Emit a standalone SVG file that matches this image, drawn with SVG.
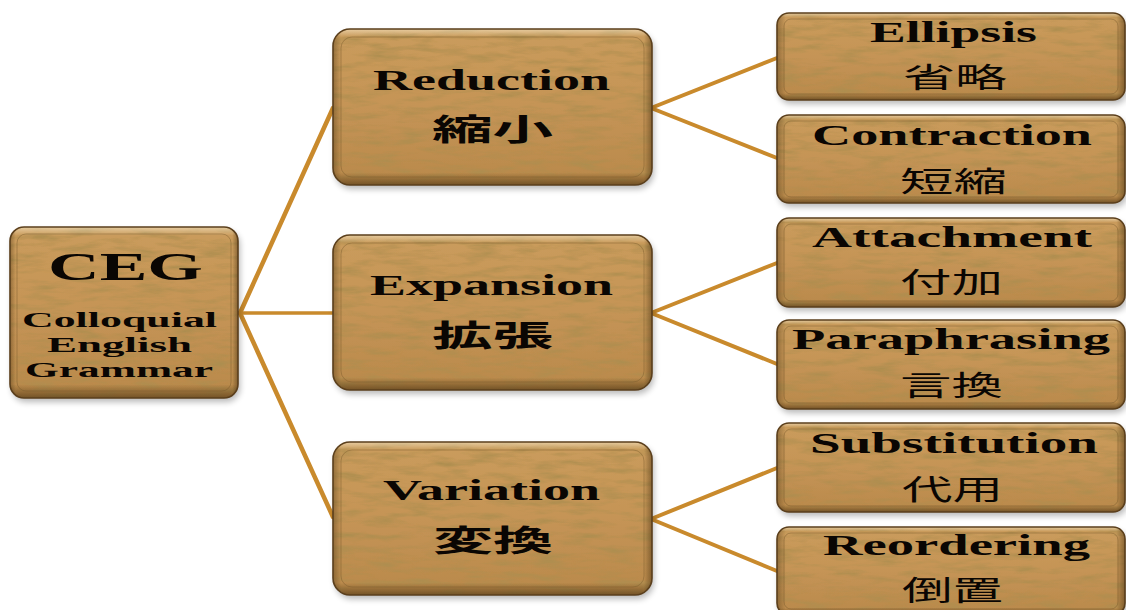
<svg xmlns="http://www.w3.org/2000/svg" width="1126" height="610" viewBox="0 0 1126 610">
<defs>
  <linearGradient id="woodg" x1="0" y1="0" x2="0" y2="1">
    <stop offset="0" stop-color="#ca9c5c"/>
    <stop offset="0.5" stop-color="#c59456"/>
    <stop offset="1" stop-color="#b9894b"/>
  </linearGradient>
  <linearGradient id="bevv" x1="0" y1="0" x2="0" y2="1">
    <stop offset="0" stop-color="#fff3d8" stop-opacity="0.55"/>
    <stop offset="0.05" stop-color="#fff3d8" stop-opacity="0"/>
    <stop offset="0.92" stop-color="#3a2508" stop-opacity="0"/>
    <stop offset="1" stop-color="#3a2508" stop-opacity="0.55"/>
  </linearGradient>
  <linearGradient id="bevh" x1="0" y1="0" x2="1" y2="0">
    <stop offset="0" stop-color="#3a2508" stop-opacity="0.35"/>
    <stop offset="0.025" stop-color="#3a2508" stop-opacity="0"/>
    <stop offset="0.975" stop-color="#3a2508" stop-opacity="0"/>
    <stop offset="1" stop-color="#3a2508" stop-opacity="0.45"/>
  </linearGradient>
  <filter id="tex" x="0" y="0" width="1" height="1">
    <feTurbulence type="fractalNoise" baseFrequency="0.03 0.15" numOctaves="4" seed="7" result="n"/>
    <feColorMatrix in="n" type="matrix" values="0 0 0 0 0.42  0 0 0 0 0.27  0 0 0 0 0.08  2.2 0 0 0 -0.95" result="c"/>
    <feComposite in="c" in2="SourceGraphic" operator="in" result="t"/>
    <feMerge><feMergeNode in="SourceGraphic"/><feMergeNode in="t"/></feMerge>
  </filter>
  <filter id="shadow" x="-10%" y="-10%" width="120%" height="130%">
    <feGaussianBlur stdDeviation="3"/>
  </filter>
</defs>
<style>
  .shd{fill:#000;opacity:0.28;filter:url(#shadow)}
  .body{fill:url(#woodg);filter:url(#tex)}
  .edge{fill:none;stroke:#5b3f1c;stroke-width:1.6}
  .bv{fill:url(#bevv)}
  .bh{fill:url(#bevh)}
  .inner{fill:none;stroke:#7a5a2c;stroke-opacity:0.45;stroke-width:1}
  .en{font-family:"Liberation Serif","DejaVu Serif",serif;font-weight:bold;fill:#0a0603}
  .cj{font-family:"Noto Sans CJK JP","Noto Sans CJK SC",sans-serif;fill:#0a0603}
  .conn line{stroke:#c98a2c;stroke-linecap:round}
</style>
<rect width="1126" height="610" fill="#ffffff"/>

<g id="connectors" class="conn">
  <line x1="240" y1="313" x2="333" y2="108" stroke-width="4.5"/>
  <line x1="240" y1="313" x2="333" y2="313" stroke-width="3.5"/>
  <line x1="240" y1="313" x2="333" y2="517" stroke-width="4.5"/>
  <line x1="651" y1="108" x2="777" y2="58" stroke-width="4"/>
  <line x1="651" y1="108" x2="777" y2="158" stroke-width="4"/>
  <line x1="651" y1="313" x2="777" y2="263" stroke-width="4"/>
  <line x1="651" y1="313" x2="777" y2="364" stroke-width="4"/>
  <line x1="651" y1="519" x2="777" y2="468" stroke-width="4"/>
  <line x1="651" y1="519" x2="777" y2="571" stroke-width="4"/>
</g>

<g id="n-ceg">
  <rect class="shd" x="12" y="231" width="228" height="171" rx="14"/>
  <rect class="body" x="10" y="227" width="228" height="171" rx="14"/>
  <rect class="bv" x="10" y="227" width="228" height="171" rx="14"/>
  <rect class="bh" x="10" y="227" width="228" height="171" rx="14"/>
  <rect class="edge" x="10" y="227" width="228" height="171" rx="14"/>
  <rect class="inner" x="17" y="234" width="214" height="157" rx="9"/>
  <text class="en" x="48" y="280" font-size="41" textLength="155" lengthAdjust="spacingAndGlyphs">CEG</text>
  <text class="en" x="22" y="327" font-size="22" textLength="195" lengthAdjust="spacingAndGlyphs">Colloquial</text>
  <text class="en" x="47" y="352" font-size="22" textLength="145" lengthAdjust="spacingAndGlyphs">English</text>
  <text class="en" x="25" y="377" font-size="22" textLength="188" lengthAdjust="spacingAndGlyphs">Grammar</text>
</g>

<g id="n-reduction">
  <rect class="shd" x="335" y="33" width="319" height="156" rx="17"/>
  <rect class="body" x="333" y="29" width="319" height="156" rx="17"/>
  <rect class="bv" x="333" y="29" width="319" height="156" rx="17"/>
  <rect class="bh" x="333" y="29" width="319" height="156" rx="17"/>
  <rect class="edge" x="333" y="29" width="319" height="156" rx="17"/>
  <rect class="inner" x="341" y="37" width="303" height="140" rx="11"/>
  <text class="en" x="373" y="90" font-size="30" textLength="237" lengthAdjust="spacingAndGlyphs">Reduction</text>
  <text class="cj" x="432" y="140" font-size="30" font-weight="bold" textLength="121" lengthAdjust="spacingAndGlyphs">縮小</text>
</g>

<g id="n-expansion">
  <rect class="shd" x="335" y="239" width="319" height="155" rx="17"/>
  <rect class="body" x="333" y="235" width="319" height="155" rx="17"/>
  <rect class="bv" x="333" y="235" width="319" height="155" rx="17"/>
  <rect class="bh" x="333" y="235" width="319" height="155" rx="17"/>
  <rect class="edge" x="333" y="235" width="319" height="155" rx="17"/>
  <rect class="inner" x="341" y="243" width="303" height="139" rx="11"/>
  <text class="en" x="370" y="295" font-size="30" textLength="243" lengthAdjust="spacingAndGlyphs">Expansion</text>
  <text class="cj" x="432" y="346" font-size="30" font-weight="bold" textLength="121" lengthAdjust="spacingAndGlyphs">拡張</text>
</g>

<g id="n-variation">
  <rect class="shd" x="335" y="446" width="319" height="153" rx="17"/>
  <rect class="body" x="333" y="442" width="319" height="153" rx="17"/>
  <rect class="bv" x="333" y="442" width="319" height="153" rx="17"/>
  <rect class="bh" x="333" y="442" width="319" height="153" rx="17"/>
  <rect class="edge" x="333" y="442" width="319" height="153" rx="17"/>
  <rect class="inner" x="341" y="450" width="303" height="137" rx="11"/>
  <text class="en" x="383" y="500" font-size="30" textLength="217" lengthAdjust="spacingAndGlyphs">Variation</text>
  <text class="cj" x="433" y="551" font-size="30" font-weight="bold" textLength="120" lengthAdjust="spacingAndGlyphs">変換</text>
</g>

<g id="n-ellipsis">
  <rect class="shd" x="779" y="17" width="348" height="87" rx="12"/>
  <rect class="body" x="777" y="13" width="348" height="87" rx="12"/>
  <rect class="bv" x="777" y="13" width="348" height="87" rx="12"/>
  <rect class="bh" x="777" y="13" width="348" height="87" rx="12"/>
  <rect class="edge" x="777" y="13" width="348" height="87" rx="12"/>
  <rect class="inner" x="784" y="19" width="334" height="75" rx="7"/>
  <text class="en" x="870" y="42" font-size="29" textLength="167" lengthAdjust="spacingAndGlyphs">Ellipsis</text>
  <text class="cj" x="903" y="88" font-size="28" textLength="104" lengthAdjust="spacingAndGlyphs">省略</text>
</g>

<g id="n-contraction">
  <rect class="shd" x="779" y="119" width="348" height="88" rx="12"/>
  <rect class="body" x="777" y="115" width="348" height="88" rx="12"/>
  <rect class="bv" x="777" y="115" width="348" height="88" rx="12"/>
  <rect class="bh" x="777" y="115" width="348" height="88" rx="12"/>
  <rect class="edge" x="777" y="115" width="348" height="88" rx="12"/>
  <rect class="inner" x="784" y="121" width="334" height="76" rx="7"/>
  <text class="en" x="812" y="145" font-size="29" textLength="280" lengthAdjust="spacingAndGlyphs">Contraction</text>
  <text class="cj" x="900" y="192" font-size="28" textLength="107" lengthAdjust="spacingAndGlyphs">短縮</text>
</g>

<g id="n-attachment">
  <rect class="shd" x="779" y="222" width="348" height="89" rx="12"/>
  <rect class="body" x="777" y="218" width="348" height="89" rx="12"/>
  <rect class="bv" x="777" y="218" width="348" height="89" rx="12"/>
  <rect class="bh" x="777" y="218" width="348" height="89" rx="12"/>
  <rect class="edge" x="777" y="218" width="348" height="89" rx="12"/>
  <rect class="inner" x="784" y="224" width="334" height="77" rx="7"/>
  <text class="en" x="812" y="247" font-size="29" textLength="280" lengthAdjust="spacingAndGlyphs">Attachment</text>
  <text class="cj" x="900" y="293" font-size="28" textLength="103" lengthAdjust="spacingAndGlyphs">付加</text>
</g>

<g id="n-paraphrasing">
  <rect class="shd" x="779" y="324" width="348" height="89" rx="12"/>
  <rect class="body" x="777" y="320" width="348" height="89" rx="12"/>
  <rect class="bv" x="777" y="320" width="348" height="89" rx="12"/>
  <rect class="bh" x="777" y="320" width="348" height="89" rx="12"/>
  <rect class="edge" x="777" y="320" width="348" height="89" rx="12"/>
  <rect class="inner" x="784" y="326" width="334" height="77" rx="7"/>
  <text class="en" x="792" y="349" font-size="29" textLength="318" lengthAdjust="spacingAndGlyphs">Paraphrasing</text>
  <text class="cj" x="900" y="396" font-size="28" textLength="103" lengthAdjust="spacingAndGlyphs">言換</text>
</g>

<g id="n-substitution">
  <rect class="shd" x="779" y="427" width="348" height="89" rx="12"/>
  <rect class="body" x="777" y="423" width="348" height="89" rx="12"/>
  <rect class="bv" x="777" y="423" width="348" height="89" rx="12"/>
  <rect class="bh" x="777" y="423" width="348" height="89" rx="12"/>
  <rect class="edge" x="777" y="423" width="348" height="89" rx="12"/>
  <rect class="inner" x="784" y="429" width="334" height="77" rx="7"/>
  <text class="en" x="810" y="453" font-size="29" textLength="288" lengthAdjust="spacingAndGlyphs">Substitution</text>
  <text class="cj" x="902" y="500" font-size="28" textLength="101" lengthAdjust="spacingAndGlyphs">代用</text>
</g>

<g id="n-reordering">
  <rect class="shd" x="779" y="531" width="348" height="88" rx="12"/>
  <rect class="body" x="777" y="527" width="348" height="88" rx="12"/>
  <rect class="bv" x="777" y="527" width="348" height="88" rx="12"/>
  <rect class="bh" x="777" y="527" width="348" height="88" rx="12"/>
  <rect class="edge" x="777" y="527" width="348" height="88" rx="12"/>
  <rect class="inner" x="784" y="533" width="334" height="76" rx="7"/>
  <text class="en" x="823" y="555" font-size="29" textLength="267" lengthAdjust="spacingAndGlyphs">Reordering</text>
  <text class="cj" x="902" y="601" font-size="28" textLength="101" lengthAdjust="spacingAndGlyphs">倒置</text>
</g>
</svg>
